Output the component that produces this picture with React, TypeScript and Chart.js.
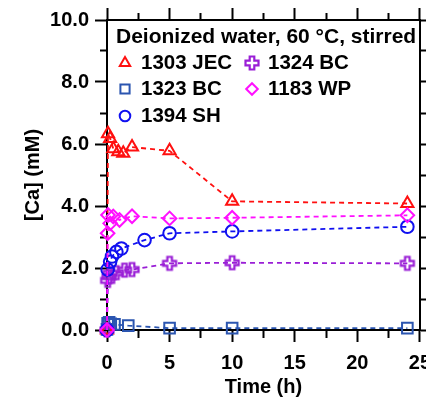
import React, { useEffect, useRef } from 'react';
import { Chart, registerables } from 'chart.js';
import { drawPoint } from 'chart.js/helpers';

Chart.register(...registerables);

// ---- data ----
const legendTitle = 'Deionized water, 60 °C, stirred';
const seriesNames = ['1303 JEC', '1323 BC', '1394 SH', '1324 BC', '1183 WP'];

const jecTime = [0, 0.08, 0.25, 0.5, 0.9, 1.3, 2, 5, 10, 24];
const jecCa = [0, 6.33, 6.18, 5.85, 5.75, 5.7, 5.9, 5.78, 4.15, 4.08];

const bc1323Time = [0, 0.05, 0.17, 0.3, 0.6, 1.7, 5, 10, 24];
const bc1323Ca = [0.02, 0.22, 0.25, 0.2, 0.18, 0.14, 0.06, 0.06, 0.06];

const shTime = [0, 0.05, 0.25, 0.4, 0.75, 1.15, 3, 5, 10, 24];
const shCa = [0, 1.95, 2.2, 2.37, 2.52, 2.63, 2.9, 3.12, 3.18, 3.33];

const bc1324Time = [0, 0.05, 0.17, 0.25, 0.75, 1.4, 2, 5, 10, 24];
const bc1324Ca = [0, 1.6, 1.72, 1.83, 1.85, 1.93, 1.95, 2.15, 2.17, 2.15];

const wpTime = [0, 0.05, 0.08, 0.25, 0.5, 1, 2, 5, 10, 24];
const wpCa = [0, 3.12, 3.71, 3.44, 3.66, 3.55, 3.67, 3.6, 3.62, 3.7];

const xTickLabels = ['0', '5', '10', '15', '20', '25'];
const yTickLabels = ['0.0', '2.0', '4.0', '6.0', '8.0', '10.0'];

const FONT = "'Liberation Sans', Arial, sans-serif";

function makePlus(color: string): HTMLCanvasElement {
  const c = document.createElement('canvas');
  c.width = 18;
  c.height = 18;
  const g = c.getContext('2d')!;
  const a = 2.3;
  const b = 6.5;
  const pts = [
    [-a, -b], [a, -b], [a, -a], [b, -a], [b, a], [a, a],
    [a, b], [-a, b], [-a, a], [-b, a], [-b, -a], [-a, -a],
  ];
  g.translate(9, 9);
  g.beginPath();
  pts.forEach(([x, y], i) => (i ? g.lineTo(x, y) : g.moveTo(x, y)));
  g.closePath();
  g.strokeStyle = color;
  g.lineWidth = 2.2;
  g.stroke();
  return c;
}

const toXY = (t: number[], v: number[]) => t.map((x, i) => ({ x, y: v[i] }));

export default function App() {
  const ref = useRef<HTMLCanvasElement>(null);

  useEffect(() => {
    const plus = makePlus('#9a1fd6');
    const colors = ['#ff1010', '#2b55b0', '#1010f0', '#9a1fd6', '#ff10ff'];
    const styles: any[] = ['triangle', 'rect', 'circle', plus, 'rectRot'];
    const radii = [7, 7.5, 6.3, 7, 6.8];
    const times = [jecTime, bc1323Time, shTime, bc1324Time, wpTime];
    const vals = [jecCa, bc1323Ca, shCa, bc1324Ca, wpCa];
    const orders = [3, 4, 1, 2, 0];

    const datasets = seriesNames.map((name, i) => ({
      label: name,
      data: toXY(times[i], vals[i]),
      borderColor: colors[i],
      backgroundColor: colors[i],
      borderWidth: 1.8,
      borderDash: [5, 4],
      pointStyle: styles[i],
      pointRadius: radii[i],
      pointBorderWidth: 2,
      pointBorderColor: colors[i],
      pointBackgroundColor: 'rgba(0,0,0,0)',
      tension: 0,
      clip: false as any,
      order: orders[i],
    }));

    const minorDash = (inner: boolean) => (ctx: any) => {
      const v = ctx.tick ? ctx.tick.value : 0;
      const scale = ctx.scale;
      const major = scale.axis === 'x' ? Math.abs(v % 5) < 1e-6 : Math.abs(v % 2) < 1e-6;
      if (major) return [];
      return inner ? [0, 5, 7, 100] : [7, 100];
    };

    const gridBase = {
      drawOnChartArea: false,
      drawTicks: true,
      tickLength: 12,
      tickWidth: 2,
      tickColor: '#000',
    };
    const border = { display: true, color: '#000', width: 2 };
    const tickFont = { family: FONT, size: 20, weight: 'bold' as any };

    const legendPlugin = {
      id: 'customLegend',
      afterDraw(chart: any) {
        const ctx = chart.ctx;
        ctx.save();
        ctx.fillStyle = '#000';
        ctx.font = `bold 21px ${FONT}`;
        ctx.textBaseline = 'middle';
        ctx.textAlign = 'left';
        ctx.fillText(legendTitle, 116, 37);
        ctx.font = `bold 20.5px ${FONT}`;
        const pos = [
          [125, 63], [125, 89], [125, 116], [252, 63], [252, 89],
        ];
        seriesNames.forEach((name, i) => {
          const [mx, my] = pos[i];
          ctx.save();
          ctx.strokeStyle = colors[i];
          ctx.fillStyle = 'rgba(0,0,0,0)';
          ctx.lineWidth = 2;
          drawPoint(ctx, { pointStyle: styles[i], radius: radii[i] - 1, rotation: 0, borderWidth: 2 } as any, mx, my);
          ctx.restore();
          ctx.fillStyle = '#000';
          ctx.fillText(name, mx + 16, my);
        });
        ctx.restore();
      },
    };

    const chart = new Chart(ref.current!, {
      type: 'line',
      data: { datasets: datasets as any },
      plugins: [legendPlugin],
      options: {
        animation: false,
        responsive: false,
        maintainAspectRatio: false,
        layout: { padding: 0 },
        plugins: { legend: { display: false }, tooltip: { enabled: false } },
        scales: {
          x: {
            type: 'linear',
            position: 'bottom',
            min: 0,
            max: 25,
            afterFit: (s: any) => { s.height = 70; },
            ticks: {
              stepSize: 2.5,
              autoSkip: false,
              maxRotation: 0,
              padding: 9,
              color: '#000',
              font: tickFont,
              callback: (v: any) => {
                const n = Number(v);
                return Math.abs(n % 5) < 1e-6 ? xTickLabels[Math.round(n / 5)] : '';
              },
            },
            grid: { ...gridBase, tickBorderDash: minorDash(false) as any },
            border,
            title: {
              display: true,
              text: 'Time (h)',
              color: '#000',
              font: { family: FONT, size: 20, weight: 'bold' as any },
              padding: { top: 0, bottom: 1 },
            },
          },
          x2: {
            type: 'linear',
            position: 'top',
            min: 0,
            max: 25,
            afterFit: (s: any) => { s.height = 20; },
            ticks: { stepSize: 2.5, display: false, autoSkip: false },
            grid: { ...gridBase, tickBorderDash: minorDash(true) as any },
            border,
          },
          y: {
            type: 'linear',
            position: 'left',
            min: 0,
            max: 10,
            afterFit: (s: any) => { s.width = 107; },
            ticks: {
              stepSize: 1,
              autoSkip: false,
              padding: 6,
              color: '#000',
              font: tickFont,
              callback: (v: any) => {
                const n = Number(v);
                return Math.abs(n % 2) < 1e-6 ? yTickLabels[Math.round(n / 2)] : '';
              },
            },
            grid: { ...gridBase, tickBorderDash: minorDash(true) as any },
            border,
            title: {
              display: true,
              text: '[Ca] (mM)',
              color: '#000',
              font: { family: FONT, size: 20, weight: 'bold' as any },
              padding: { top: 21, bottom: 0 },
            },
          },
          y2: {
            type: 'linear',
            position: 'right',
            min: 0,
            max: 10,
            afterFit: (s: any) => { s.width = 20; },
            ticks: { stepSize: 1, display: false, autoSkip: false },
            grid: { ...gridBase, tickBorderDash: minorDash(false) as any },
            border,
          },
        },
      },
    });
    return () => chart.destroy();
  }, []);

  return (
    <div
      style={{
        position: 'absolute',
        left: 0,
        top: 0,
        width: 426,
        height: 400,
        overflow: 'hidden',
        background: '#fff',
      }}
    >
      <canvas ref={ref} width={440} height={400} style={{ display: 'block' }} />
    </div>
  );
}
